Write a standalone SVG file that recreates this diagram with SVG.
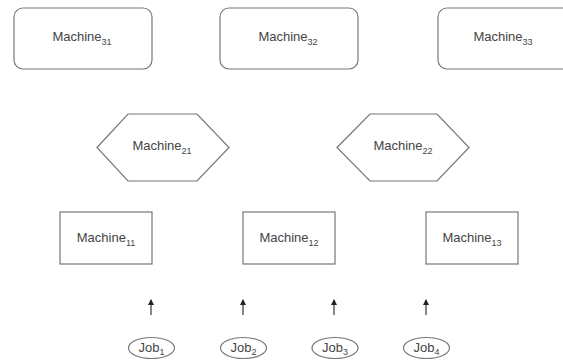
<svg xmlns="http://www.w3.org/2000/svg" width="563" height="360" viewBox="0 0 563 360">
<defs>
<style>
.shape{fill:#fff;stroke:#777;stroke-width:1.2}
.lbl{font-family:"Liberation Sans",Arial,sans-serif;font-size:13px;fill:#444;text-anchor:middle}
.sub{font-size:9px}
.conn{stroke:#333;stroke-width:1.2;fill:none}
</style>
<marker id="ah" markerWidth="6" markerHeight="6" refX="5" refY="3" orient="auto" markerUnits="userSpaceOnUse">
<path d="M0,0 L6,3 L0,6 Z" fill="#222"/>
</marker>
</defs>
<rect width="563" height="360" fill="#fff"/>
<g id="m31"><rect class="shape" x="14" y="8" width="138" height="61" rx="9"/><text class="lbl" x="82" y="41">Machine<tspan class="sub" dy="4">31</tspan></text></g>
<g id="m32"><rect class="shape" x="220" y="8" width="138" height="61" rx="9"/><text class="lbl" x="288" y="41">Machine<tspan class="sub" dy="4">32</tspan></text></g>
<g id="m33"><rect class="shape" x="438" y="8" width="138" height="61" rx="9"/><text class="lbl" x="503" y="41">Machine<tspan class="sub" dy="4">33</tspan></text></g>
<g id="m21"><polygon class="shape" points="97,147.5 128,114 197,114 229,147.5 197,181 128,181"/><text class="lbl" x="162" y="150">Machine<tspan class="sub" dy="4">21</tspan></text></g>
<g id="m22"><polygon class="shape" points="337,147.5 370,114 437,114 469,147.5 437,181 370,181"/><text class="lbl" x="403" y="150">Machine<tspan class="sub" dy="4">22</tspan></text></g>
<g id="m11"><rect class="shape" x="60" y="212" width="92" height="52"/><text class="lbl" x="106" y="242">Machine<tspan class="sub" dy="4">11</tspan></text></g>
<g id="m12"><rect class="shape" x="243" y="212" width="92" height="52"/><text class="lbl" x="289" y="242">Machine<tspan class="sub" dy="4">12</tspan></text></g>
<g id="m13"><rect class="shape" x="426" y="212" width="92" height="52"/><text class="lbl" x="472" y="242">Machine<tspan class="sub" dy="4">13</tspan></text></g>
<g id="job1"><ellipse class="shape" cx="151.5" cy="348" rx="23" ry="10.5"/><text class="lbl" x="151.5" y="352">Job<tspan class="sub" dy="3">1</tspan></text></g>
<g id="job2"><ellipse class="shape" cx="243.5" cy="348" rx="23" ry="10.5"/><text class="lbl" x="243.5" y="352">Job<tspan class="sub" dy="3">2</tspan></text></g>
<g id="job3"><ellipse class="shape" cx="335" cy="348" rx="23" ry="10.5"/><text class="lbl" x="335" y="352">Job<tspan class="sub" dy="3">3</tspan></text></g>
<g id="job4"><ellipse class="shape" cx="426.5" cy="348" rx="23" ry="10.5"/><text class="lbl" x="426.5" y="352">Job<tspan class="sub" dy="3">4</tspan></text></g>
<g id="connectors">
<line class="conn" x1="151" y1="315" x2="151" y2="300" marker-end="url(#ah)"/>
<line class="conn" x1="243" y1="315" x2="243" y2="300" marker-end="url(#ah)"/>
<line class="conn" x1="334" y1="315" x2="334" y2="300" marker-end="url(#ah)"/>
<line class="conn" x1="426" y1="315" x2="426" y2="300" marker-end="url(#ah)"/>
</g>
</svg>
